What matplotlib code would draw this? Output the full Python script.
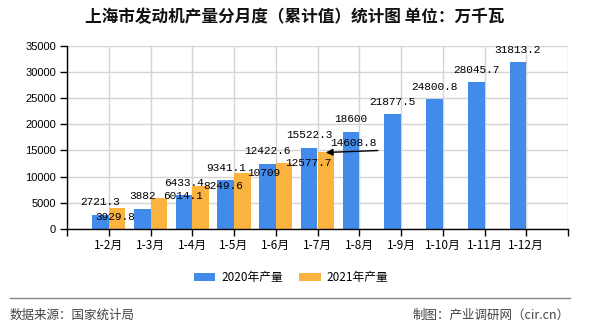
import matplotlib
matplotlib.use("Agg")
import matplotlib.pyplot as plt
from matplotlib.lines import Line2D
import numpy as np

plt.rcParams['font.family'] = ['Noto Sans CJK SC', 'DejaVu Sans']

categories = ["1-2月", "1-3月", "1-4月", "1-5月", "1-6月", "1-7月",
              "1-8月", "1-9月", "1-10月", "1-11月", "1-12月"]
values_2020 = [2721.3, 3882, 6433.4, 9341.1, 12422.6, 15522.3,
               18600, 21877.5, 24800.8, 28045.7, 31813.2]
values_2021 = [3929.8, 6014.1, 8249.6, 10709, 12577.7, 14608.8]
series_names = ["2020年产量", "2021年产量"]
y_ticks = [0, 5000, 10000, 15000, 20000, 25000, 30000, 35000]

title = "上海市发动机产量分月度（累计值）统计图 单位：万千瓦"
source_text = "数据来源：国家统计局"
maker_text = "制图：产业调研网（cir.cn）"

BLUE = "#428bea"
ORANGE = "#fbb340"
GRID = "#d4d4d4"

W, H = 590, 330
fig = plt.figure(figsize=(W / 100, H / 100), dpi=100)
ax = fig.add_axes([67 / W, 1 - 229 / H, (568 - 67) / W, (229 - 45.7) / H])

x = np.arange(len(categories))
bw = 0.4
x21 = x[:len(values_2021)]
ax.bar(x - bw / 2, values_2020, width=bw, color=BLUE, zorder=3, label=series_names[0])
ax.bar(x21 + bw / 2, values_2021, width=bw, color=ORANGE, zorder=3, label=series_names[1])

ax.set_xlim(-1, len(categories))
ax.set_ylim(0, y_ticks[-1])
ax.set_yticks(y_ticks)
ax.set_yticklabels([str(v) for v in y_ticks], family=['Liberation Sans'], fontsize=8)

xt = np.arange(-1, len(categories) + 1)
ax.set_xticks(xt)
ax.set_xticklabels([""] + categories + [""], fontsize=8.5)
ax.tick_params(axis='x', length=5, width=1, pad=2, color='black')
ax.tick_params(axis='y', length=5, width=1, pad=3, color='black')

ax.grid(True, color=GRID, linewidth=1, zorder=0)
for s in ['top', 'right']:
    ax.spines[s].set_visible(False)
for s in ['left', 'bottom']:
    ax.spines[s].set_color('black')
    ax.spines[s].set_linewidth(1)
    ax.spines[s].set_zorder(4)

label_font = dict(family=['Liberation Mono', 'DejaVu Sans Mono'], fontsize=8, color='black')

def fmt(v):
    return f"{v:g}"

# 2020 labels: centered above blue bars
for xi, v in zip(x, values_2020):
    ax.annotate(fmt(v), (xi - bw / 2, v), xytext=(0, 12.5), textcoords='offset pixels',
                ha='center', va='center', zorder=5, **label_font)

# 2021 labels: offsets (pixels) as drawn in the reference
label_offsets_2021 = [(-2, -9), (24.5, 1.5), (22.5, 0), (21.5, 0), (24.5, 0), None]
for xi, v, off in zip(x21, values_2021, label_offsets_2021):
    if off is None:
        continue
    ax.annotate(fmt(v), (xi + bw / 2, v), xytext=off, textcoords='offset pixels',
                ha='center', va='center', zorder=5, **label_font)

# last 2021 label with pointer arrow
xl, vl = x21[-1] + bw / 2, values_2021[-1]
ax.annotate("", (xl, vl), xytext=(52, 2), textcoords='offset pixels', zorder=6,
            arrowprops=dict(arrowstyle='-|>,head_length=0.4,head_width=0.2',
                            color='black', lw=1, shrinkA=0, shrinkB=0))
ax.annotate(fmt(vl), (xl, vl), xytext=(27.5, 9.5), textcoords='offset pixels',
            ha='center', va='center', zorder=6, **label_font)

# title
fig.text(295 / W, 1 - 17.5 / H, title, ha='center', va='center', fontsize=12,
         fontweight='bold', color='#111111')

# legend
handles, labels = ax.get_legend_handles_labels()
fig.legend(handles, labels, loc='center', bbox_to_anchor=(291 / W, 1 - 277.5 / H),
           ncol=2, frameon=False, fontsize=8.5, handlelength=1.8, handleheight=0.75,
           handletextpad=0.5, columnspacing=1.4, borderpad=0)

# footer line and text
fig.add_artist(Line2D([10 / W, 570 / W], [1 - 298 / H, 1 - 298 / H],
                      transform=fig.transFigure, color='#888888', linewidth=1))
fig.text(10 / W, 1 - 315.5 / H, source_text, ha='left', va='center', fontsize=9, color='#444444')
fig.text(570 / W, 1 - 315.5 / H, maker_text, ha='right', va='center', fontsize=9, color='#444444')

fig.savefig("out.png", dpi=100, facecolor='white')
